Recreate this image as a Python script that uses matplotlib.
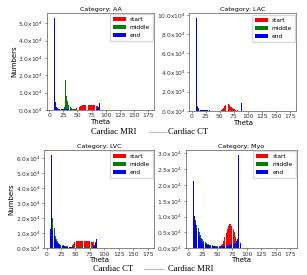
import numpy as np
import matplotlib
matplotlib.use('Agg')
import matplotlib.pyplot as plt
from matplotlib.ticker import FuncFormatter, MultipleLocator
from matplotlib.lines import Line2D

# theta bins (left edges, degrees), 2 degree wide
theta = np.arange(0, 92, 2)

# counts per bin, in thousands
#                0  2  4  6  8     10   12   14   16   18   20   22   24   26   28    30   32   34   36   38   40   42   44   46   48   50   52   54   56   58   60   62   64   66   68   70   72   74   76   78   80   82   84   86   88   90
aa_start =     [0, 0, 0, 0, 0,    0,   0,   0,   0,   0,   0,   0,   0,   0,   0,    0,   0,   0,   0,   0,   0,   0,   0.2, 0.6, 1.0, 1.4, 1.8, 2.2, 2.5, 2.7, 2.8, 2.9, 2.9, 2.9, 2.8, 2.8, 2.8, 2.7, 2.7, 2.6, 2.6, 2.5, 2.3, 1.5, 0.3, 0]
aa_middle =    [0, 0, 0, 0, 0,    1.5, 1.0, 0.7, 0.6, 0.6, 0.6, 0.7, 0.8, 2.0, 17.5, 8.3, 5.0, 3.0, 1.9, 1.2, 0.8, 0.5, 0.3, 0.2, 0.1, 0.1, 0.1, 0.1, 0.1, 0.1, 0.1, 0.1, 0.1, 0.1, 0.1, 0.1, 0.1, 0.1, 0.1, 0.1, 0.1, 0.1, 0.1, 0.1, 0, 0]
aa_end =       [0, 0, 0, 0, 53.3, 4.5, 2.0, 1.0, 0.8, 0.7, 0.6, 0.6, 0.5, 0.5, 0.5,  0.4, 0.4, 0.3, 0.3, 0.2, 0.2, 0.2, 0.2, 0.2, 0.2, 0.2, 0.2, 0.2, 0.2, 0.2, 0.2, 0.2, 0.2, 0.2, 0.2, 0.2, 0.2, 0.2, 0.2, 0.2, 0.2, 0.4, 1.0, 2.0, 3.9, 0]

lac_start =    [0, 0, 0, 0, 0,    0,   0,   0,   0,   0,   0,   0,   0,   0,   0,    0,   0,   0,   0,   0,   0,   0,   0,   0,   0,   0.3, 0.9, 1.6, 3.0, 5.0, 6.5, 7.6, 7.2, 5.8, 4.5, 3.5, 2.7, 2.0, 1.5, 1.0, 0.5, 0.2, 0,   0,   0,   0]
lac_middle =   [0, 0, 0, 0, 0,    5.5, 2.5, 1.2, 0.8, 0.6, 0.4, 0.4, 0.4, 0.4, 0.4,  0.4, 0.3, 0.3, 0.3, 0.3, 0.3, 0.3, 0.3, 0.3, 0.3, 0.3, 0.1, 0.1, 0.1, 0.1, 0.1, 0.1, 0.1, 0.1, 0.1, 0.1, 0.1, 0.1, 0.1, 0.1, 0.1, 0.1, 0.1, 0.1, 0,   0]
lac_end =      [0, 0, 0, 0, 96.6, 4.0, 1.5, 0.8, 0.6, 0.5, 0.4, 0.4, 0.4, 0.4, 0.4,  0.4, 0.3, 0.3, 0.3, 0.3, 0.3, 0.3, 0.3, 0.3, 0.2, 0.2, 0.2, 0.2, 0.2, 0.2, 0.2, 0.2, 0.2, 0.2, 0.2, 0.2, 0.2, 0.2, 0.2, 0.2, 0.2, 0.2, 0.2, 0.2, 8.0, 0]

lvc_start =    [0, 0, 0, 0, 0,    0,   0,   0,   0,   0,   0,   0,   0,   0,   0,    0,   0,   0,   0,   0,   0.3, 1.0, 2.0, 3.2, 4.2, 4.8, 5.0, 5.1, 5.1, 5.0, 5.0, 4.9, 4.9, 4.8, 4.8, 4.7, 4.6, 4.6, 4.5, 4.4, 4.2, 2.0, 0.5, 0,   0,   0]
lvc_middle =   [0, 0, 0, 0, 0,    20.4, 13.3, 8.5, 6.0, 4.6, 3.6, 2.9, 2.5, 2.2, 1.9, 1.7, 1.6, 1.4, 1.3, 1.1, 1.0, 1.0, 0.9, 0.8, 0.8, 0.6, 0.6, 0.6, 0.6, 0.6, 0.6, 0.6, 0.6, 0.6, 0.6, 0.6, 0.6, 0.6, 0.6, 0.8, 1.0, 2.0, 4.0, 6.5, 7.0, 0]
lvc_end =      [0, 0, 0, 12.9, 62.2, 12.0, 9.0, 6.0, 4.3, 3.3, 2.6, 2.1, 1.8, 1.6, 1.4, 1.3, 1.2, 1.1, 1.0, 0.9, 0.8, 0.7, 0.6, 0.5, 0.4, 0.3, 0.3, 0.3, 0.3, 0.3, 0.3, 0.3, 0.3, 0.3, 0.3, 0.3, 0.3, 0.3, 0.3, 0.4, 0.8, 1.8, 3.5, 6.0, 9.3, 0]

myo_start =    [0, 0, 0, 0, 0,    0,   0,   0,   0,   0,   0,   0,   0,   0,   0,    0,   0,   0,   0,   0,   0,   0,   0,   0,   0,   0,   0.2, 0.5, 0.9, 1.5, 2.4, 3.6, 4.9, 6.1, 7.0, 7.6, 7.7, 7.2, 6.2, 5.0, 3.6, 2.2, 1.0, 0.3, 0,   0]
myo_middle =   [0, 0, 0, 0, 0,    9.0, 8.9, 7.5, 6.3, 5.3, 4.2, 3.4, 2.8, 2.2, 1.9,  1.6, 1.4, 1.25, 1.1, 1.05, 0.95, 0.85, 0.8, 0.75, 0.7, 0.65, 0.6, 0.6, 0.55, 0.5, 0.5, 0.5, 0.4, 0.4, 0.4, 0.4, 0.4, 0.4, 0.4, 0.4, 0.4, 0.4, 0.4, 0, 0, 0]
myo_end =      [0, 0, 0, 0, 21.2, 10.3, 8.0, 6.5, 5.0, 3.8, 3.0, 2.4, 2.0, 1.7, 1.4, 1.2, 1.05, 0.95, 0.85, 0.8, 0.7, 0.65, 0.6, 0.55, 0.5, 0.5, 0.5, 0.5, 0.55, 0.6, 0.65, 0.7, 0.75, 0.8, 0.9, 1.0, 1.2, 1.3, 1.5, 1.6, 1.8, 2.2, 2.8, 29.4, 1.8, 0]

panels = [
    ("AA", aa_start, aa_middle, aa_end),
    ("LAC", lac_start, lac_middle, lac_end),
    ("LVC", lvc_start, lvc_middle, lvc_end),
    ("Myo", myo_start, myo_middle, myo_end),
]
ylims = [5.6e4, 10.15e4, 6.55e4, 3.1e4]
ysteps = [1e4, 2e4, 1e4, 0.5e4]

# axes boxes in figure fractions: left, bottom, width, height
boxes = [
    [0.153, 0.600, 0.349, 0.353],
    [0.617, 0.597, 0.347, 0.354],
    [0.144, 0.097, 0.358, 0.357],
    [0.605, 0.097, 0.362, 0.357],
]


def fmt(v, pos):
    return '%.1fx$10^4$' % (v / 1e4)


def draw_panel(ax, name, start, middle, end, ymax, ystep, ylabel):
    x = theta + 1
    ax.bar(x, np.array(start) * 1000, width=1.7, color='red', linewidth=0, label='start')
    ax.bar(x, np.array(middle) * 1000, width=1.7, color='green', linewidth=0, label='middle')
    ax.bar(x, np.array(end) * 1000, width=1.7, color='blue', linewidth=0, label='end')
    ax.set_xlim(-4, 186)
    ax.set_ylim(0, ymax)
    ax.xaxis.set_major_locator(MultipleLocator(25))
    ax.yaxis.set_major_locator(MultipleLocator(ystep))
    ax.yaxis.set_major_formatter(FuncFormatter(fmt))
    ax.tick_params(labelsize=4.3, length=1.5, width=0.4, pad=1, colors='0.2')
    for s in ax.spines.values():
        s.set_linewidth(0.6)
        s.set_color('0.45')
    ax.set_title("Category: " + name, fontsize=4.6, pad=1.5)
    ax.set_xlabel("Theta", fontsize=5, labelpad=0.5)
    if ylabel:
        ax.set_ylabel("Numbers", fontsize=5, labelpad=1)
    ax.legend(loc='upper right', fontsize=4.2, handlelength=2.2, handleheight=0.7,
              borderpad=0.5, labelspacing=0.5, handletextpad=0.7,
              fancybox=False, framealpha=1, edgecolor='0.85', borderaxespad=0.2)


def main():
    fig = plt.figure(figsize=(3.07, 2.75), dpi=100)
    for i, (name, s, m, e) in enumerate(panels):
        ax = fig.add_axes(boxes[i])
        draw_panel(ax, name, s, m, e, ylims[i], ysteps[i], i % 2 == 0)

    serif = ['Liberation Serif', 'DejaVu Serif']
    # captions under the rows
    fig.text(114 / 307, 1 - 132 / 275, "Cardiac MRI", family=serif, fontsize=6.2, ha='center', va='center')
    fig.text(188 / 307, 1 - 132 / 275, "Cardiac CT", family=serif, fontsize=6.2, ha='center', va='center')
    fig.add_artist(Line2D([149 / 307, 166 / 307], [1 - 132 / 275] * 2, color='0.75', lw=0.8))
    fig.text(113 / 307, 1 - 269 / 275, "Cardiac CT", family=serif, fontsize=6.2, ha='center', va='center')
    fig.text(191 / 307, 1 - 269 / 275, "Cardiac MRI", family=serif, fontsize=6.2, ha='center', va='center')
    fig.add_artist(Line2D([144 / 307, 164 / 307], [1 - 269 / 275] * 2, color='0.75', lw=0.8))

    fig.savefig('out.png', dpi=100)


if __name__ == "__main__":
    main()
